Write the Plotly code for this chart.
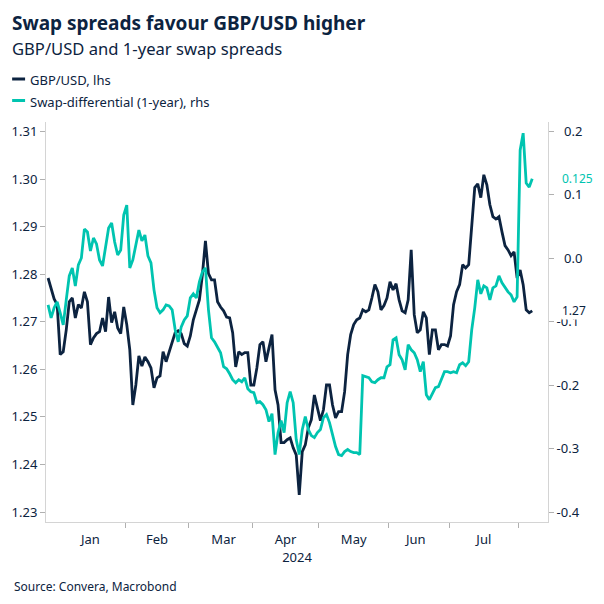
import pandas as pd
import plotly.graph_objects as go

# ---------------- data (business days, 27 Dec 2023 - 7 Aug 2024) ----------------
start_date = "2023-12-27"

gbp_usd = [
    1.2792, 1.2771, 1.2748, 1.2736, 1.2631, 1.2637, 1.2683, 1.2742, 1.2750, 1.2708,
    1.2736, 1.2729, 1.2763, 1.2742, 1.2652, 1.2666, 1.2675, 1.2679, 1.2708, 1.2679,
    1.2752, 1.2698, 1.2721, 1.2687, 1.2675, 1.2731, 1.2694, 1.2641, 1.2525, 1.2567,
    1.2628, 1.2607, 1.2626, 1.2616, 1.2603, 1.2561, 1.2582, 1.2586, 1.2637, 1.2616,
    1.2637, 1.2658, 1.2677, 1.2681, 1.2675, 1.2654, 1.2649, 1.2670, 1.2704, 1.2725,
    1.2746, 1.2799, 1.2870, 1.2801, 1.2788, 1.2788, 1.2742, 1.2731, 1.2723, 1.2710,
    1.2708, 1.2677, 1.2605, 1.2637, 1.2631, 1.2635, 1.2635, 1.2567, 1.2567, 1.2603,
    1.2652, 1.2658, 1.2616, 1.2645, 1.2673, 1.2557, 1.2525, 1.2446, 1.2446, 1.2452,
    1.2456, 1.2435, 1.2420, 1.2336, 1.2427, 1.2441, 1.2477, 1.2494, 1.2546, 1.2519,
    1.2492, 1.2515, 1.2567, 1.2567, 1.2525, 1.2498, 1.2511, 1.2511, 1.2553, 1.2631,
    1.2673, 1.2694, 1.2704, 1.2708, 1.2725, 1.2721, 1.2725, 1.2750, 1.2778, 1.2763,
    1.2725, 1.2734, 1.2750, 1.2784, 1.2767, 1.2780, 1.2746, 1.2723, 1.2719, 1.2746,
    1.2851, 1.2715, 1.2677, 1.2683, 1.2721, 1.2708, 1.2631, 1.2683, 1.2683, 1.2641,
    1.2652, 1.2652, 1.2649, 1.2670, 1.2736, 1.2763, 1.2778, 1.2820, 1.2813, 1.2820,
    1.2893, 1.2982, 1.2990, 1.2961, 1.3009, 1.2988, 1.2946, 1.2921, 1.2916, 1.2921,
    1.2889, 1.2860, 1.2851, 1.2839, 1.2847, 1.2792, 1.2809, 1.2778, 1.2725, 1.2719,
    1.2723,
]

swap_diff = [
    -0.0735, -0.0940, -0.0782, -0.0688, -0.0861, -0.1050, -0.0657, -0.0279, -0.0154, -0.0437,
    -0.0106, 0.0004, 0.0459, 0.0412, 0.0114, 0.0318, 0.0224, -0.0028, -0.0122, 0.0208,
    0.0475, 0.0554, 0.0255, 0.0051, 0.0129, 0.0680, 0.0837, -0.0154, -0.0028, 0.0208,
    0.0444, 0.0271, 0.0365, 0.0035, -0.0075, -0.0499, -0.0782, -0.0861, -0.0814, -0.0735,
    -0.0751, -0.0814, -0.1128, -0.1317, -0.1081, -0.0971, -0.0908, -0.0625, -0.0562, -0.0625,
    -0.0374, -0.0216, -0.0154, -0.0814, -0.1254, -0.1317, -0.1411, -0.1490, -0.1710, -0.1741,
    -0.1820, -0.1914, -0.1961, -0.1914, -0.1946, -0.1883, -0.2056, -0.2103, -0.2118, -0.2276,
    -0.2260, -0.2307, -0.2386, -0.2574, -0.2449, -0.3093, -0.2747, -0.2559, -0.2747, -0.2276,
    -0.2103, -0.2276, -0.2857, -0.3093, -0.2700, -0.2496, -0.2700, -0.2794, -0.2826, -0.2747,
    -0.2700, -0.2511, -0.2464, -0.2590, -0.2779, -0.2967, -0.3093, -0.3109, -0.3046, -0.3014,
    -0.3046, -0.3062, -0.3062, -0.3093, -0.1851, -0.1867, -0.1883, -0.1946, -0.1961, -0.1914,
    -0.1883, -0.1883, -0.1710, -0.1678, -0.1285, -0.1254, -0.1521, -0.1600, -0.1757, -0.1364,
    -0.1443, -0.1490, -0.1600, -0.1788, -0.1631, -0.2150, -0.2228, -0.2134, -0.2040, -0.2024,
    -0.1914, -0.1788, -0.1788, -0.1804, -0.1788, -0.1804, -0.1678, -0.1647, -0.1694, -0.1631,
    -0.1128, -0.0782, -0.0342, -0.0562, -0.0437, -0.0468, -0.0657, -0.0468, -0.0437, -0.0279,
    -0.0389, -0.0468, -0.0531, -0.0578, -0.0688, -0.0609, 0.1701, 0.1969, 0.1183, 0.1120,
    0.1250,
]

left_ticks = [1.23, 1.24, 1.25, 1.26, 1.27, 1.28, 1.29, 1.30, 1.31]
right_ticks = [-0.4, -0.3, -0.2, -0.1, 0.0, 0.1, 0.2]
right_ticktext = ["-0.4", "-0.3", "-0.2", "-0.1", "\u20070.0", "\u20070.1", "\u20070.2"]

title = "Swap spreads favour GBP/USD higher"
subtitle = "GBP/USD and 1-year swap spreads"
name_gbp = "GBP/USD, lhs"
name_swap = "Swap-differential (1-year), rhs"
source = "Source: Convera, Macrobond"
year_label = "2024"

# ---------------- styling ----------------
NAVY = "#0c2340"
TEAL = "#00c4b0"
AXIS = "#d4d4d4"
TICK = "#b0b0b0"
FONT = "Noto Sans"

dates = pd.bdate_range(start_date, periods=len(gbp_usd)) + pd.Timedelta(hours=12)

fig = go.Figure()
fig.add_trace(go.Scatter(x=dates, y=swap_diff, name=name_swap, yaxis="y2",
                         mode="lines", line=dict(color=TEAL, width=2.8)))
fig.add_trace(go.Scatter(x=dates, y=gbp_usd, name=name_gbp, yaxis="y",
                         mode="lines", line=dict(color=NAVY, width=2.8)))

W, H = 604, 604
ML, MR, MT, MB = 44, 56, 122, 82
PW, PH = W - ML - MR, H - MT - MB


def px_x(px):
    return (px - ML) / PW


def px_y(py):
    return (H - MB - py) / PH


fig.update_layout(
    width=W, height=H,
    margin=dict(l=ML, r=MR, t=MT, b=MB, pad=0),
    paper_bgcolor="white", plot_bgcolor="white",
    showlegend=False,
    font=dict(family=FONT, size=13, color=NAVY),
    xaxis=dict(
        type="date",
        range=["2023-12-26 19:25", "2024-08-14 17:00"],
        rangebreaks=[dict(bounds=["sat", "mon"])],
        tick0="2024-01-01", dtick="M1", tickformat="%b",
        ticklabelmode="period",
        ticks="outside", ticklen=5, tickcolor=TICK,
        showline=True, linecolor=AXIS, linewidth=1,
        showgrid=False, zeroline=False,
        tickfont=dict(size=13, color=NAVY),
        title=dict(text=year_label, font=dict(size=13, color=NAVY), standoff=6),
    ),
    yaxis=dict(
        range=[1.2279, 1.3120],
        tickvals=left_ticks, tickformat=".2f",
        ticks="outside", ticklen=5, tickcolor=TICK,
        showline=True, linecolor=AXIS, linewidth=1,
        showgrid=False, zeroline=False,
        tickfont=dict(size=13, color=NAVY),
    ),
    yaxis2=dict(
        overlaying="y", side="right",
        range=[-0.4155, 0.2145],
        tickvals=right_ticks, ticktext=right_ticktext,
        ticks="outside", ticklen=5, tickcolor=TICK,
        showline=True, linecolor=AXIS, linewidth=1,
        showgrid=False, zeroline=False,
        tickfont=dict(size=13, color=NAVY),
    ),
)

ann = []
ann.append(dict(text="<b>" + title + "</b>", xref="paper", yref="paper",
                x=px_x(8), y=px_y(23), xanchor="left", yanchor="middle",
                showarrow=False, font=dict(size=19, color=NAVY, family=FONT)))
ann.append(dict(text=subtitle, xref="paper", yref="paper",
                x=px_x(8), y=px_y(49), xanchor="left", yanchor="middle",
                showarrow=False, font=dict(size=16.6, color=NAVY, family=FONT)))
ann.append(dict(text=name_gbp, xref="paper", yref="paper",
                x=px_x(26), y=px_y(80), xanchor="left", yanchor="middle",
                showarrow=False, font=dict(size=13, color=NAVY)))
ann.append(dict(text=name_swap, xref="paper", yref="paper",
                x=px_x(26), y=px_y(101.5), xanchor="left", yanchor="middle",
                showarrow=False, font=dict(size=13, color=NAVY)))
ann.append(dict(text=source, xref="paper", yref="paper",
                x=px_x(10), y=px_y(586), xanchor="left", yanchor="middle",
                showarrow=False, font=dict(size=12, color=NAVY)))
# last-value labels
ann.append(dict(text=f"{swap_diff[-1]:.3f}", xref="paper", yref="y2",
                x=1, y=swap_diff[-1], xanchor="left", yanchor="middle", xshift=13,
                showarrow=False, bgcolor="white", borderpad=0,
                font=dict(size=12, color=TEAL)))
ann.append(dict(text=f"{gbp_usd[-1]:.2f}", xref="paper", yref="y",
                x=1, y=gbp_usd[-1], xanchor="left", yanchor="middle", xshift=13,
                showarrow=False, bgcolor="white", borderpad=0,
                font=dict(size=12, color=NAVY)))
fig.update_layout(annotations=ann)

# legend swatches
shapes = []
for py, col in [(79, NAVY), (100.5, TEAL)]:
    shapes.append(dict(type="line", xref="paper", yref="paper",
                       x0=px_x(10), x1=px_x(23), y0=px_y(py), y1=px_y(py),
                       line=dict(color=col, width=3)))
fig.update_layout(shapes=shapes)

fig.write_html("out.html")
